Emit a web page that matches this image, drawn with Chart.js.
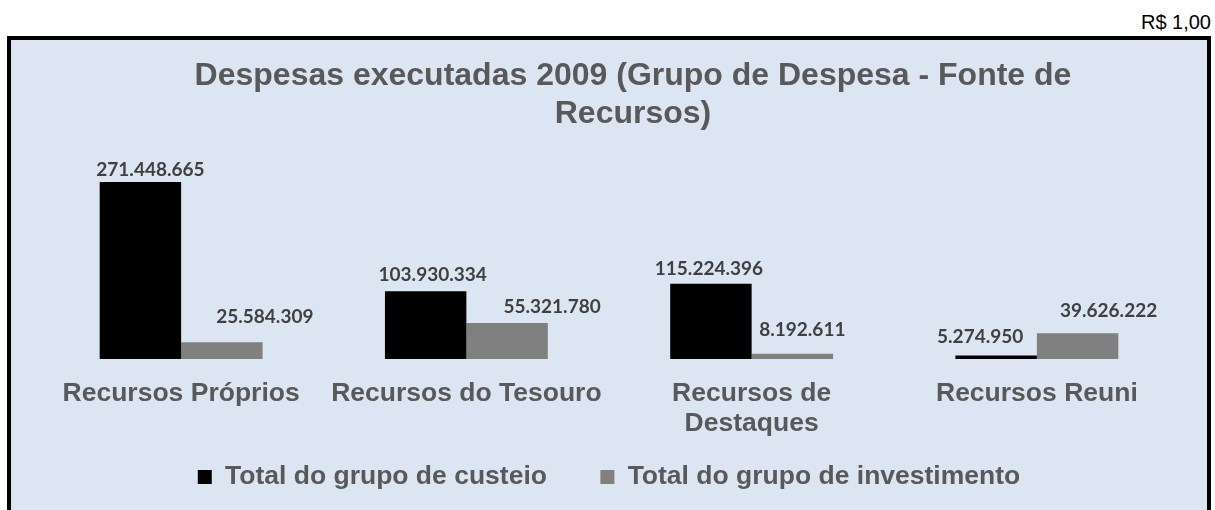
<!DOCTYPE html>
<html>
<head>
<meta charset="utf-8">
<script src="https://cdn.jsdelivr.net/npm/chart.js@4.4.0/dist/chart.umd.min.js"></script>
<style>
html,body{margin:0;padding:0;width:1215px;height:510px;overflow:hidden;background:#ffffff;}
#frame{position:absolute;left:7px;top:36px;width:1204px;height:500px;box-sizing:border-box;border:4px solid #000;background:#dce6f2;}
#unit{position:absolute;right:4px;top:12px;font:20px 'Liberation Sans',Arial,sans-serif;line-height:20px;color:#000;white-space:nowrap;}
#wrap{position:absolute;left:0;top:0;width:1215px;height:510px;}
</style>
</head>
<body>
<div id="unit"></div>
<div id="frame"></div>
<div id="wrap"><canvas id="c" width="1215" height="510"></canvas></div>
<script>
// ---- data ----
const categories = ['Recursos Próprios', 'Recursos do Tesouro', ['Recursos de', 'Destaques'], 'Recursos Reuni'];
const seriesNames = ['Total do grupo de custeio', 'Total do grupo de investimento'];
const custeio = [271448665, 103930334, 115224396, 5274950];
const investimento = [25584309, 55321780, 8192611, 39626222];
const titleLines = ['Despesas executadas 2009 (Grupo de Despesa - Fonte de', 'Recursos)'];
const unitLabel = 'R$ 1,00';

document.getElementById('unit').textContent = unitLabel;

function fmt(n) {
  return String(n).replace(/\B(?=(\d{3})+(?!\d))/g, '.');
}

const titlePlugin = {
  id: 'customTitle',
  afterDraw(chart, args, opts) {
    const ctx = chart.ctx;
    ctx.save();
    ctx.font = opts.font;
    ctx.fillStyle = opts.color;
    ctx.textAlign = 'center';
    ctx.textBaseline = 'alphabetic';
    opts.lines.forEach((t, i) => ctx.fillText(t, opts.x, opts.y[i]));
    ctx.restore();
  }
};

const labelPlugin = {
  id: 'barValueLabels',
  afterDatasetsDraw(chart, args, opts) {
    const ctx = chart.ctx;
    ctx.save();
    ctx.font = opts.font;
    ctx.fillStyle = opts.color;
    ctx.textAlign = 'center';
    ctx.textBaseline = 'middle';
    chart.data.datasets.forEach((ds, di) => {
      const meta = chart.getDatasetMeta(di);
      meta.data.forEach((bar, i) => {
        const off = opts.offsets[di][i];
        ctx.fillText(fmt(ds.data[i]), bar.x + off[0], bar.y - off[1]);
      });
    });
    ctx.restore();
  }
};

const axisFont = {family: "'Liberation Sans', Arial, sans-serif", size: 26.5, weight: 'bold', lineHeight: 30 / 26.5};

new Chart(document.getElementById('c').getContext('2d'), {
  type: 'bar',
  data: {
    labels: categories,
    datasets: [
      {label: seriesNames[0], data: custeio, backgroundColor: '#000000', borderWidth: 0, categoryPercentage: 0.571, barPercentage: 1},
      {label: seriesNames[1], data: investimento, backgroundColor: '#808080', borderWidth: 0, categoryPercentage: 0.571, barPercentage: 1}
    ]
  },
  options: {
    responsive: false,
    animation: false,
    devicePixelRatio: 1,
    layout: {padding: {left: 38.5, right: 35.5, top: 163.4, bottom: 9.75}},
    scales: {
      x: {
        grid: {display: false, drawTicks: false},
        border: {display: false},
        ticks: {padding: 19.5, color: '#595959', font: axisFont, maxRotation: 0, minRotation: 0, autoSkip: false},
        afterFit(s) { s.height = 80.75; }
      },
      y: {display: false, min: 0, max: 300000000}
    },
    plugins: {
      title: {display: false},
      tooltip: {enabled: false},
      legend: {
        position: 'bottom',
        labels: {
          boxWidth: 14, boxHeight: 14, padding: 24, color: '#595959',
          font: {family: "'Liberation Sans', Arial, sans-serif", size: 26.5, weight: 'bold'},
          generateLabels(chart) {
            const items = Chart.defaults.plugins.legend.labels.generateLabels(chart);
            items.forEach((it, i) => {
              it.lineWidth = 0;
              if (i < items.length - 1) it.text = it.text + '\u00a0\u00a0\u00a0\u00a0';
            });
            return items;
          }
        }
      },
      customTitle: {
        lines: titleLines,
        x: 633,
        y: [85, 123],
        font: "bold 32px 'Liberation Sans', Arial, sans-serif",
        color: '#595959'
      },
      barValueLabels: {
        font: "bold 19px Lato, 'Open Sans', sans-serif",
        color: '#404040',
        offsets: [
          [[10, 12], [7, 16], [-2, 15], [-16, 19]],
          [[43, 25], [45, 16], [10, 24], [31, 22]]
        ]
      }
    }
  },
  plugins: [titlePlugin, labelPlugin]
});
</script>
</body>
</html>
